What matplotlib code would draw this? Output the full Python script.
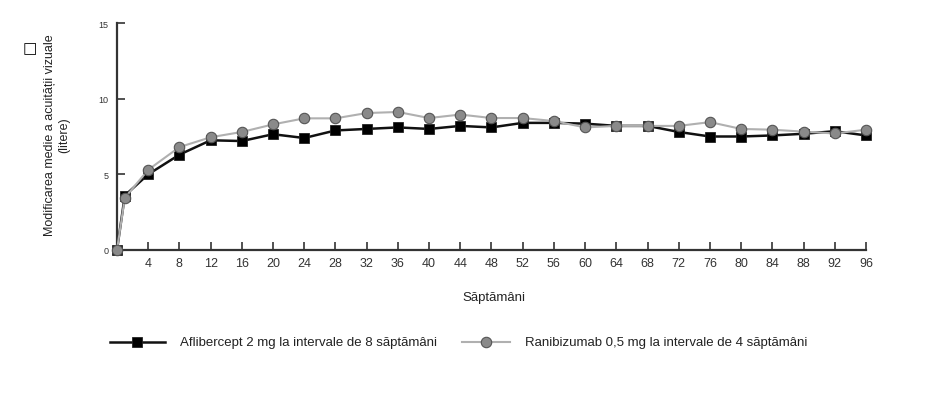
import matplotlib
matplotlib.use("Agg")
import matplotlib.pyplot as plt
from matplotlib.lines import Line2D

plt.rcParams['font.family'] = ['Liberation Sans', 'DejaVu Sans']

weeks = [0, 1, 4, 8, 12, 16, 20, 24, 28, 32, 36, 40, 44, 48, 52, 56, 60, 64, 68, 72, 76, 80, 84, 88, 92, 96]
aflibercept = [0, 3.6, 5.0, 6.3, 7.25, 7.2, 7.65, 7.4, 7.9, 8.0, 8.1, 8.0, 8.2, 8.1, 8.4, 8.4, 8.35, 8.2, 8.2, 7.8, 7.5, 7.5, 7.57, 7.68, 7.85, 7.57]
ranibizumab = [0, 3.45, 5.3, 6.8, 7.45, 7.8, 8.3, 8.7, 8.7, 9.05, 9.12, 8.72, 8.95, 8.72, 8.72, 8.52, 8.1, 8.2, 8.2, 8.2, 8.45, 8.0, 7.95, 7.82, 7.7, 7.95]
xticks = list(range(4, 97, 4))
yticks = [0, 5, 10, 15]
label_afl = "Aflibercept 2 mg la intervale de 8 săptămâni"
label_ran = "Ranibizumab 0,5 mg la intervale de 4 săptămâni"

W, H = 928, 402
fig = plt.figure(figsize=(W/100, H/100), dpi=100)
ax = fig.add_axes([117/W, 1-251/H, (866-117)/W, (251-24)/H])

afl_style = dict(color='#111111', lw=1.8, marker='s', ms=6.5, mfc='black', mec='#222222', mew=0.6)
ran_style = dict(color='#b0b0b0', lw=1.5, marker='o', ms=7.5, mfc='#8a8a8a', mec='#555555', mew=0.8)

ax.plot(weeks, ranibizumab, clip_on=False, zorder=3, **ran_style)
ax.plot(weeks, aflibercept, clip_on=False, zorder=2, **afl_style)

ax.set_xlim(0, 96)
ax.set_ylim(0, 15)
ax.set_xticks(xticks)
ax.set_yticks(yticks)
ax.tick_params(axis='x', direction='in', length=6, width=1.2, color='#333333',
               labelsize=9, labelcolor='#333333', pad=5)
ax.tick_params(axis='y', direction='in', length=6, width=1.2, color='#333333',
               labelsize=6.5, labelcolor='#333333', pad=6)
for s in ['top', 'right']:
    ax.spines[s].set_visible(False)
for s in ['left', 'bottom']:
    ax.spines[s].set_linewidth(1.6)
    ax.spines[s].set_color('#333333')

fig.text(57/W, 1-135/H, "Modificarea medie a acuității vizuale\n(litere)",
         rotation=90, ha='center', va='center', fontsize=9, color='#222222',
         linespacing=1.2)
fig.text(494/W, 1-298/H, "Săptămâni", ha='center', va='center', fontsize=9.5, color='#222222')
fig.text(30/W, 1-49/H, "□", ha='center', va='center', fontsize=11,
         family=['DejaVu Sans'])

# legend (manual layout)
ly = 1 - 343/H
fig.add_artist(Line2D([110/W, 165/W], [ly, ly], transform=fig.transFigure, markevery=[], **{k: v for k, v in afl_style.items()}))
fig.add_artist(Line2D([137/W], [ly], transform=fig.transFigure, linestyle='none', **{k: v for k, v in afl_style.items() if k not in ('color', 'lw')}))
fig.text(180/W, ly, label_afl, ha='left', va='center', fontsize=9.5, color='#222222')
fig.add_artist(Line2D([462/W, 510/W], [ly, ly], transform=fig.transFigure, markevery=[], **{k: v for k, v in ran_style.items()}))
fig.add_artist(Line2D([486/W], [ly], transform=fig.transFigure, linestyle='none', **{k: v for k, v in ran_style.items() if k not in ('color', 'lw')}))
fig.text(525/W, ly, label_ran, ha='left', va='center', fontsize=9.5, color='#222222')

fig.savefig("out.png", dpi=100, facecolor='white')
